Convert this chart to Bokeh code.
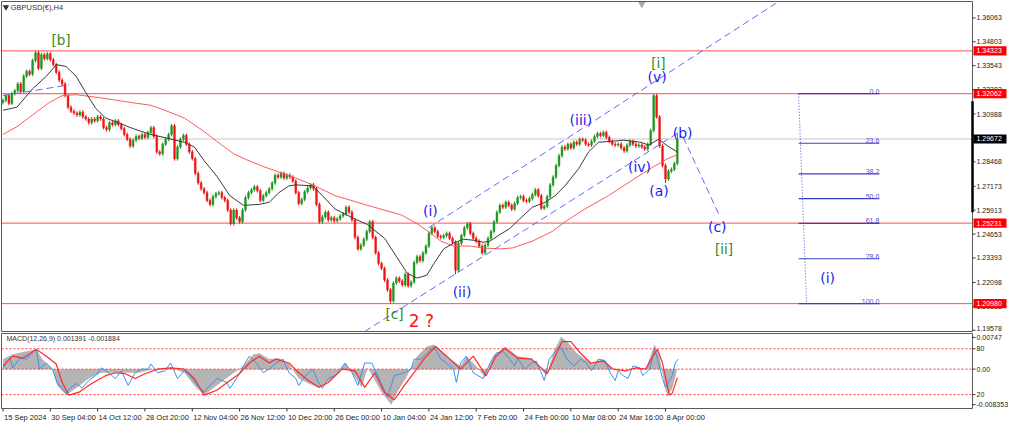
from bokeh.plotting import figure
from bokeh.models import Range1d, ColumnDataSource
from bokeh.layouts import column
from bokeh.embed import file_html
from bokeh.resources import INLINE
from bokeh.core.properties import value

# ---------------- data ----------------
chart_title = "GBPUSD(€),H4"
macd_title = "MACD(12,26,9) 0.001391 -0.001884"

first_open = 1.3160
closes = [
    1.3171, 1.3196, 1.3155, 1.3207, 1.3222, 1.3258, 1.3217, 1.3299, 1.3324, 1.3309,
    1.3381, 1.3422, 1.3340, 1.3412, 1.3391, 1.3417, 1.3386, 1.3360, 1.3319, 1.3278,
    1.3258, 1.3196, 1.3135, 1.3114, 1.3104, 1.3094, 1.3109, 1.3084, 1.3073, 1.3053,
    1.3073, 1.3063, 1.3084, 1.3073, 1.3027, 1.3017, 1.3053, 1.3043, 1.3063, 1.3043,
    1.3022, 1.2991, 1.2966, 1.2930, 1.2961, 1.2981, 1.2971, 1.2991, 1.2976, 1.3002,
    1.3027, 1.2981, 1.2899, 1.2889, 1.2940, 1.2966, 1.2991, 1.3037, 1.2863, 1.2925,
    1.2966, 1.2986, 1.2940, 1.2899, 1.2863, 1.2786, 1.2735, 1.2704, 1.2684, 1.2643,
    1.2622, 1.2663, 1.2679, 1.2684, 1.2658, 1.2643, 1.2592, 1.2520, 1.2592, 1.2551,
    1.2530, 1.2592, 1.2658, 1.2684, 1.2699, 1.2715, 1.2694, 1.2643, 1.2668, 1.2684,
    1.2704, 1.2735, 1.2776, 1.2766, 1.2786, 1.2761, 1.2776, 1.2766, 1.2745, 1.2684,
    1.2627, 1.2648, 1.2689, 1.2709, 1.2725, 1.2704, 1.2622, 1.2530, 1.2556, 1.2581,
    1.2540, 1.2551, 1.2535, 1.2545, 1.2561, 1.2571, 1.2607, 1.2581, 1.2540, 1.2448,
    1.2387, 1.2407, 1.2438, 1.2479, 1.2530, 1.2448, 1.2366, 1.2310, 1.2284, 1.2223,
    1.2171, 1.2112, 1.2207, 1.2233, 1.2217, 1.2197, 1.2253, 1.2192, 1.2212, 1.2315,
    1.2346, 1.2325, 1.2366, 1.2402, 1.2469, 1.2499, 1.2479, 1.2453, 1.2448, 1.2458,
    1.2469, 1.2443, 1.2422, 1.2274, 1.2417, 1.2458, 1.2499, 1.2520, 1.2469, 1.2443,
    1.2428, 1.2402, 1.2366, 1.2407, 1.2443, 1.2479, 1.2530, 1.2581, 1.2617, 1.2607,
    1.2633, 1.2617, 1.2597, 1.2627, 1.2658, 1.2663, 1.2643, 1.2638, 1.2653, 1.2674,
    1.2699, 1.2668, 1.2602, 1.2612, 1.2663, 1.2725, 1.2766, 1.2827, 1.2879, 1.2925,
    1.2914, 1.2940, 1.2920, 1.2950, 1.2940, 1.2966, 1.2961, 1.2940, 1.2935, 1.2955,
    1.2981, 1.2996, 1.2986, 1.3002, 1.2976, 1.2955, 1.2940, 1.2935, 1.2940, 1.2920,
    1.2904, 1.2935, 1.2955, 1.2940, 1.2930, 1.2935, 1.2925, 1.2914, 1.2940, 1.3012,
    1.3196, 1.3084, 1.2930, 1.2827, 1.2756, 1.2797, 1.2807, 1.2838, 1.29672,
]
marked_highs = {11: 1.34323, 220: 1.32062, 228: 1.2999}
marked_lows = {131: 1.20980, 153: 1.2253, 224: 1.2735}

ma_fast_x = [0, 4.7, 10, 14.7, 18, 21.3, 24.7, 28, 31.3, 34.7, 39, 44, 50, 55.7, 61.3, 64.7, 68,
             72.3, 76.7, 81.3, 86.7, 90, 93.3, 96.7, 99, 104.7, 108, 112.3, 119, 123.3, 129,
             133.3, 136.7, 140, 143.3, 145.7, 149, 152.3, 155.7, 159, 162.3, 164.7, 168, 171.3,
             174.7, 179, 183.3, 186.7, 190, 194.7, 198, 201.3, 205.7, 210, 215.7, 218.3, 221.7,
             224.7, 228]
ma_fast_y = [1.3119, 1.3135, 1.3232, 1.3299, 1.3360, 1.3350, 1.3299, 1.3212, 1.3130, 1.3078,
             1.3053, 1.3022, 1.2991, 1.2971, 1.2950, 1.2925, 1.2853, 1.2771, 1.2668, 1.2617,
             1.2622, 1.2633, 1.2684, 1.2720, 1.2725, 1.2720, 1.2668, 1.2597, 1.2545, 1.2515,
             1.2443, 1.2340, 1.2258, 1.2233, 1.2248, 1.2310, 1.2387, 1.2417, 1.2438, 1.2433,
             1.2422, 1.2428, 1.2463, 1.2494, 1.2545, 1.2607, 1.2633, 1.2668, 1.2720, 1.2812,
             1.2899, 1.2950, 1.2955, 1.2961, 1.2950, 1.2935, 1.2966, 1.2930, 1.2899]

ma_slow_x = [0, 4.7, 10, 15.7, 20, 24.7, 32.3, 43.3, 50, 54.7, 61.3, 68, 72.3, 78, 82.3, 88,
             99, 104.7, 112.3, 123.3, 134.7, 140, 144.7, 148, 152.3, 158, 162.3, 168, 172.3,
             179, 185.7, 190, 196.7, 204.7, 212.3, 219, 224.7, 228]
ma_slow_y = [1.2991, 1.3032, 1.3094, 1.3160, 1.3196, 1.3201, 1.3186, 1.3160, 1.3145, 1.3119,
             1.3078, 1.3007, 1.2955, 1.2889, 1.2858, 1.2822, 1.2761, 1.2725, 1.2668, 1.2617,
             1.2566, 1.2520, 1.2469, 1.2428, 1.2402, 1.2402, 1.2392, 1.2387, 1.2392, 1.2428,
             1.2479, 1.2530, 1.2597, 1.2668, 1.2745, 1.2812, 1.2863, 1.2884]

price_ticks = [1.36063, 1.34803, 1.33543, 1.32283, 1.30988, 1.29728, 1.28468, 1.27173,
               1.25913, 1.24653, 1.23393, 1.22098, 1.20838, 1.19578]
price_tick_labels = ["1.36063", "1.34803", "1.33543", "1.32283", "1.30988", "1.29728", "1.28468",
                     "1.27173", "1.25913", "1.24653", "1.23393", "1.22098", "1.20838", "1.19578"]

red_levels = [1.34323, 1.32062, 1.25231, 1.20980]
red_level_labels = ["1.34323", "1.32062", "1.25231", "1.20980"]
bid_price = 1.29672
bid_label = "1.29672"

fib_high = 1.32062
fib_low = 1.20980
fib_levels = [0.0, 23.6, 38.2, 50.0, 61.8, 78.6, 100.0]
fib_level_labels = ["0.0", "23.6", "38.2", "50.0", "61.8", "78.6", "100.0"]
fib_x = [269.0, 296.3]
fib_diag_x = [269.0, 271.7]

channel_upper_x = [144.0, 261.3]
channel_upper_y = [1.2499, 1.3683]
channel_lower_x = [122.3, 229.0]
channel_lower_y = [1.1951, 1.3007]
early_line_x = [0.0, 22.3]
early_line_y = [1.3196, 1.3253]
projection_x = [230.0, 242.3]
projection_y = [1.2976, 1.2561]

blue_wave_text = ["(v)", "(iii)", "(iv)", "(b)", "(a)", "(i)", "(ii)", "(c)", "(i)"]
blue_wave_x = [221.2, 195.4, 215.2, 229.8, 221.8, 144.5, 155.2, 241.5, 278.8]
blue_wave_y = [1.3295, 1.3068, 1.2822, 1.3000, 1.2694, 1.2586, 1.2158, 1.2504, 1.2234]
green_wave_text = ["[b]", "[i]", "[c]", "[ii]"]
green_wave_x = [19.6, 221.6, 132.4, 243.8]
green_wave_y = [1.3492, 1.3367, 1.2043, 1.2387]
red_wave_text = ["2 ?"]
red_wave_x = [141.5]
red_wave_y = [1.2009]

time_ticks = [0, 16, 32, 48, 64, 80, 96, 112, 128, 144, 160, 176, 192, 208, 224]
time_labels = ["15 Sep 2024", "30 Sep 04:00", "14 Oct 12:00", "28 Oct 20:00", "12 Nov 04:00",
               "26 Nov 12:00", "10 Dec 20:00", "26 Dec 00:00", "10 Jan 04:00", "24 Jan 12:00",
               "7 Feb 20:00", "24 Feb 00:00", "10 Mar 08:00", "24 Mar 16:00", "8 Apr 00:00"]

hist_x = [0, 3.3, 8, 11.3, 13.3, 16.7, 18.3, 21.3, 24.7, 29, 33.3, 39, 45.7, 51.3, 56.7, 61.3,
          64.7, 68, 72.3, 76.7, 81.3, 84.7, 86.7, 90, 93.3, 96.7, 100, 103.3, 106.7, 111.3,
          115.7, 118, 121.3, 123.3, 128, 131.3, 133.3, 136.7, 140, 143.3, 145.7, 150, 154.7,
          156.7, 160, 163, 165.7, 169.7, 174, 178.7, 182, 183.7, 186.3, 188.7, 190.7, 194,
          198.7, 203, 206.3, 212, 217.3, 220.3, 222, 223.7, 224.7, 226.3, 228]
hist_v = [0.00236, 0.00351, 0.00420, 0.00465, 0.00236, 0.0, -0.00383, -0.00612, -0.00452,
          -0.00222, -0.00085, -0.00085, -0.00085, 0.0, 0.0003, -0.00085, -0.00383, -0.00612,
          -0.00383, -0.00154, 0.00076, 0.00351, 0.00374, 0.00236, 0.00259, 0.00122, -0.00222,
          -0.00337, -0.00429, -0.00222, 0.00144, -0.00085, -0.00429, 0.0003, -0.00543,
          -0.00841, -0.00543, -0.00154, 0.00305, 0.00534, 0.00580, 0.00305, 0.00076, 0.00305,
          0.00076, -0.00199, 0.00305, 0.00534, 0.00305, 0.00259, 0.0, -0.00154, 0.00420,
          0.00764, 0.00649, 0.00374, 0.00144, 0.00236, 0.0, 0.0, 0.0, 0.00580, 0.00305,
          -0.00383, -0.00658, -0.00452, 0.0]

signal_x = [0, 3.3, 6.7, 11.3, 14.7, 18, 20, 22.3, 25.7, 30, 34.7, 38, 41.3, 44.7, 48, 52.3,
            56.7, 61.3, 64.7, 68, 72.3, 76.7, 80, 83.3, 86.7, 90, 92.3, 96.7, 100, 103.3, 106.7,
            110, 114.7, 119, 122.3, 125.7, 129, 132.3, 135.7, 139, 142.3, 146.3, 150, 154.7,
            159, 163.3, 166.7, 169.7, 174, 178.7, 182, 184, 186.3, 189, 192, 195.3, 198.7, 203,
            206.3, 210.7, 214, 217.3, 219.7, 221.3, 223, 225.3, 226.3, 228]
signal_v = [0.00076, 0.00305, 0.00259, 0.00465, 0.00305, 0.00122, -0.00314, -0.00612, -0.00543,
            -0.00337, -0.00154, -0.00085, -0.00108, -0.00222, -0.00108, 0.0, 0.0003, 0.0,
            -0.00222, -0.00612, -0.00497, -0.00268, -0.00108, 0.00144, 0.00305, 0.00144,
            0.00236, 0.00144, -0.00085, -0.00268, -0.00429, -0.00314, 0.0, -0.00039, -0.00429,
            -0.00085, -0.00543, -0.00727, -0.00383, -0.00085, 0.00236, 0.00534, 0.00305, 0.0,
            0.00305, -0.00154, 0.00305, 0.00488, 0.00259, 0.00236, 0.0003, -0.00108, 0.00236,
            0.00649, 0.00649, 0.00374, 0.00144, 0.00190, 0.0, -0.00039, 0.0003, 0.0, 0.00305,
            0.00465, 0.00144, -0.00612, -0.00566, -0.00199]

main_x = [0, 2.3, 3.3, 5.7, 8, 10, 11.3, 12.3, 14.7, 16.7, 18.3, 20, 21.3, 23, 25, 26.7, 29,
          31.3, 33.3, 35.7, 38, 40, 42.3, 44.7, 46.7, 49, 50, 52.3, 54.7, 56.7, 59, 61.3, 63.3,
          65.7, 68, 70, 72.3, 75.7, 76.7, 79, 81.3, 83.3, 85.7, 88, 90, 92.3, 94.7, 96.7, 99,
          100, 102.3, 104.7, 106.7, 108, 110, 112.3, 115.7, 118, 120, 122.3, 124.7, 126.7, 130,
          131.3, 132.3, 135.7, 138, 139, 141.3, 143.3, 145.7, 148, 150, 152.3, 153.3, 154.7,
          156.7, 159, 162.3, 164.7, 166.7, 169, 171.3, 173, 174, 176.3, 178.7, 180.3, 182, 183,
          184.7, 186.3, 188, 189, 190.7, 193, 195.3, 197.3, 199, 201.3, 203.7, 205.3, 207, 208,
          209.7, 211.3, 213, 215.3, 216.3, 218.7, 220.3, 221.3, 223, 224, 225.3, 226.3, 227.3,
          228.3]
main_v = [0.0003, 0.00259, 0.0003, 0.00259, 0.00236, 0.00420, 0.00465, 0.0, 0.00144, 0.0,
          -0.00314, -0.00452, -0.00566, -0.00429, -0.00337, -0.00452, -0.00268, -0.00154,
          0.0003, -0.00085, -0.00222, -0.00039, -0.00383, -0.00085, 0.0, 0.0, 0.00122, -0.00085,
          -0.00039, 0.00144, -0.00222, -0.00039, -0.00154, -0.00383, -0.00543, -0.00383,
          -0.00222, -0.00314, -0.00452, -0.00222, 0.00076, 0.00305, 0.00144, -0.00085, 0.0,
          0.00144, 0.00236, -0.00085, -0.00222, -0.00383, -0.00154, 0.0, -0.00314, -0.00452,
          -0.00222, -0.00154, 0.00144, -0.00085, -0.00383, 0.00144, 0.00144, -0.00154, -0.00658,
          -0.00383, -0.00154, -0.00085, 0.0, 0.00236, 0.00236, 0.00374, 0.00534, 0.00236,
          0.00144, 0.0, -0.00314, 0.00144, 0.00305, -0.00085, -0.00222, 0.00144, 0.00374,
          0.00420, 0.00236, 0.00076, 0.00259, 0.0, 0.00144, 0.00190, -0.00085, -0.00268,
          0.00236, 0.00374, 0.00534, 0.00465, 0.00236, 0.00076, 0.00236, 0.00144, -0.00039,
          0.00236, 0.00190, -0.00085, -0.00268, -0.00039, -0.00154, -0.00222, 0.00076, 0.0003,
          -0.00154, 0.0, 0.00465, 0.00236, -0.00222, -0.00429, -0.00268, -0.00154, 0.00144,
          0.00236]

macd_levels = [0.00479, 0.0, -0.0060]
macd_ticks = [0.00747, 0.00479, 0.0, -0.0060, -0.008353]
macd_tick_labels = ["0.00747", "80", "0.00", "20", "-0.008353"]

# ---------------- geometry / styles ----------------
WICK = 0.0010
BULL = "#1e961e"
BEAR = "#f01414"
FONT = "Liberation Sans"
WAVE_FONT = "DejaVu Sans"
BORDER = "#5a5a5a"

FIG_W = 1008
PANEL_X0, PANEL_X1 = -0.5, 327.8          # bar range shown inside the chart panels
BAR_PX = 971.0 / (PANEL_X1 - PANEL_X0)    # pixels per bar
XR = Range1d(PANEL_X0 - 1.0 / BAR_PX, PANEL_X0 + (FIG_W - 1.0) / BAR_PX)

MAIN_H = 332
MAIN_Y0, MAIN_Y1 = 1.1951, 1.3693
MAIN_UPP = (MAIN_Y1 - MAIN_Y0) / (MAIN_H - 2)
MACD_H = 93
MACD_Y0, MACD_Y1 = -0.00927, 0.00839
MACD_PANEL_PX = 75
MACD_UPP = (MACD_Y1 - MACD_Y0) / MACD_PANEL_PX


def px_x(n_px):
    return n_px / BAR_PX


def make_fig(height, y0, y1):
    f = figure(width=FIG_W, height=height, x_range=XR, y_range=Range1d(y0, y1),
               output_backend="svg", toolbar_location=None, x_axis_location=None,
               y_axis_location=None, min_border=0, min_border_left=0, min_border_right=0,
               min_border_top=0, min_border_bottom=0, outline_line_color=None,
               background_fill_color="white", border_fill_color="white")
    f.grid.visible = False
    return f


def right_axis(f, ticks, labels, y_lo, y_hi):
    f.segment(x0=[PANEL_X1] * len(ticks), x1=[PANEL_X1 + px_x(3)] * len(ticks),
              y0=ticks, y1=ticks, line_color="#333333", line_width=1)
    label_y = [min(max(t, y_lo), y_hi) for t in ticks]
    f.text(x=[PANEL_X1 + px_x(4)] * len(ticks), y=label_y, text=labels, text_align="left",
           text_baseline="middle", text_font=value(FONT), text_font_size="7px",
           text_color="#222222")


# ---------------- candles ----------------
n = len(closes)
bars = list(range(n))
opens = [first_open] + closes[:-1]
highs, lows, tops, bots, cols = [], [], [], [], []
for i in range(n):
    o, c = opens[i], closes[i]
    highs.append(marked_highs.get(i, max(o, c) + WICK))
    lows.append(marked_lows.get(i, min(o, c) - WICK))
    tops.append(max(o, c))
    bots.append(min(o, c))
    cols.append(BULL if c >= o else BEAR)
src = ColumnDataSource(dict(x=bars, h=highs, l=lows, top=tops, bot=bots, col=cols))

p = make_fig(MAIN_H, MAIN_Y0 - MAIN_UPP, MAIN_Y1 + MAIN_UPP)

# horizontal levels (behind price)
p.segment(x0=[PANEL_X0] * len(red_levels), x1=[PANEL_X1] * len(red_levels),
          y0=red_levels, y1=red_levels, line_color="#ff4d4d", line_width=1)
p.segment(x0=[PANEL_X0], x1=[PANEL_X1], y0=[bid_price], y1=[bid_price],
          line_color="#c8c8c8", line_width=1)

# fib retracement
fib_prices = [fib_high - lv / 100.0 * (fib_high - fib_low) for lv in fib_levels]
p.segment(x0=[fib_x[0]] * len(fib_prices), x1=[fib_x[1]] * len(fib_prices),
          y0=fib_prices, y1=fib_prices, line_color="#3c3cc8", line_width=1.2)
p.text(x=[fib_x[1]] * len(fib_prices), y=fib_prices, text=fib_level_labels,
       text_align="right", text_baseline="bottom", text_font=value(FONT),
       text_font_size="7px", text_color="#5050d0")
p.line(fib_diag_x, [fib_high, fib_low], line_color="#4848e0", line_dash="1 2", line_width=1)

# candles
p.segment(x0="x", y0="l", x1="x", y1="h", line_color="col", line_width=1, source=src)
p.vbar(x="x", width=0.6, top="top", bottom="bot", fill_color="col", line_color="col",
       line_width=0.5, source=src)

# moving averages
p.line(ma_slow_x, ma_slow_y, line_color="#ff5a5a", line_width=1)
p.line(ma_fast_x, ma_fast_y, line_color="#3a3a3a", line_width=1)

# wave drawings
dash_kw = dict(line_color="#6464ff", line_dash="7 4", line_width=1)
p.line(channel_upper_x, channel_upper_y, **dash_kw)
p.line(channel_lower_x, channel_lower_y, **dash_kw)
p.line(early_line_x, early_line_y, **dash_kw)
p.line(projection_x, projection_y, **dash_kw)

p.text(x=blue_wave_x, y=blue_wave_y, text=blue_wave_text, text_align="center",
       text_baseline="middle", text_font=value(WAVE_FONT), text_font_size="14px",
       text_color="#1c1cf0")
p.text(x=green_wave_x, y=green_wave_y, text=green_wave_text, text_align="center",
       text_baseline="middle", text_font=value(WAVE_FONT), text_font_size="13.5px",
       text_color="#2e8b1e")
p.text(x=red_wave_x, y=red_wave_y, text=red_wave_text, text_align="center",
       text_baseline="middle", text_font=value(WAVE_FONT), text_font_size="17px",
       text_color="#ff1010")

# chart title & markers
p.scatter(x=[1.0], y=[1.3663], marker="inverted_triangle", size=5, color="#333333")
p.text(x=[2.6], y=[1.3663], text=[chart_title], text_font=value(FONT), text_font_size="7.5px",
       text_baseline="middle", text_align="left", text_color="#333333")
p.scatter(x=[216.0], y=[1.3683], marker="inverted_triangle", size=7, color="#a8a8a8")

# panel border
p.quad(left=[PANEL_X0], right=[PANEL_X1], bottom=[MAIN_Y0], top=[MAIN_Y1],
       fill_color=None, line_color=BORDER, line_width=1)
p.segment(x0=[PANEL_X1], x1=[PANEL_X1], y0=[1.3166], y1=[1.2581], line_color="#000000",
          line_width=2.5)

# right price axis with boxes
right_axis(p, price_ticks, price_tick_labels, MAIN_Y0 + 3.5 * MAIN_UPP, MAIN_Y1 - 3.5 * MAIN_UPP)
box_levels = red_levels + [bid_price]
box_labels = red_level_labels + [bid_label]
box_colors = ["#ff0000"] * len(red_levels) + ["#000000"]
hb = 4.6 * MAIN_UPP
p.quad(left=[PANEL_X1 + px_x(1)] * len(box_levels), right=[PANEL_X1 + px_x(34)] * len(box_levels),
       bottom=[v - hb for v in box_levels], top=[v + hb for v in box_levels],
       fill_color=box_colors, line_color=None)
p.text(x=[PANEL_X1 + px_x(4)] * len(box_levels), y=box_levels, text=box_labels,
       text_align="left", text_baseline="middle", text_font=value(FONT),
       text_font_size="7px", text_color="white")

# ---------------- MACD panel ----------------
m = make_fig(MACD_H, MACD_Y0 - (MACD_H - MACD_PANEL_PX - 1) * MACD_UPP, MACD_Y1 + MACD_UPP)

m.varea(x=hist_x, y1=[0.0] * len(hist_x), y2=hist_v, fill_color="#b4b4b4")
m.segment(x0=[PANEL_X0] * len(macd_levels), x1=[PANEL_X1] * len(macd_levels),
          y0=macd_levels, y1=macd_levels, line_color="#ff3030", line_dash="2 2", line_width=1)
m.line(main_x, main_v, line_color="#3d8ff0", line_width=1)
m.line(signal_x, signal_v, line_color="#ff2a2a", line_width=1.2)
m.text(x=[1.2], y=[0.00718], text=[macd_title], text_font=value(FONT), text_font_size="7px",
       text_baseline="middle", text_align="left", text_color="#333333")

m.quad(left=[PANEL_X0], right=[PANEL_X1], bottom=[MACD_Y0], top=[MACD_Y1],
       fill_color=None, line_color=BORDER, line_width=1)
right_axis(m, macd_ticks, macd_tick_labels, MACD_Y0, MACD_Y1)

# time axis
m.segment(x0=time_ticks, x1=time_ticks, y0=[MACD_Y0] * len(time_ticks),
          y1=[MACD_Y0 - 3 * MACD_UPP] * len(time_ticks), line_color="#333333", line_width=1)
m.text(x=[t + px_x(1) for t in time_ticks], y=[MACD_Y0 - 4 * MACD_UPP] * len(time_ticks),
       text=time_labels, text_align="left", text_baseline="top", text_font=value(FONT),
       text_font_size="7.5px", text_color="#222222")

layout = column(p, m, spacing=0)
open("out.html", "w").write(file_html(layout, INLINE))
